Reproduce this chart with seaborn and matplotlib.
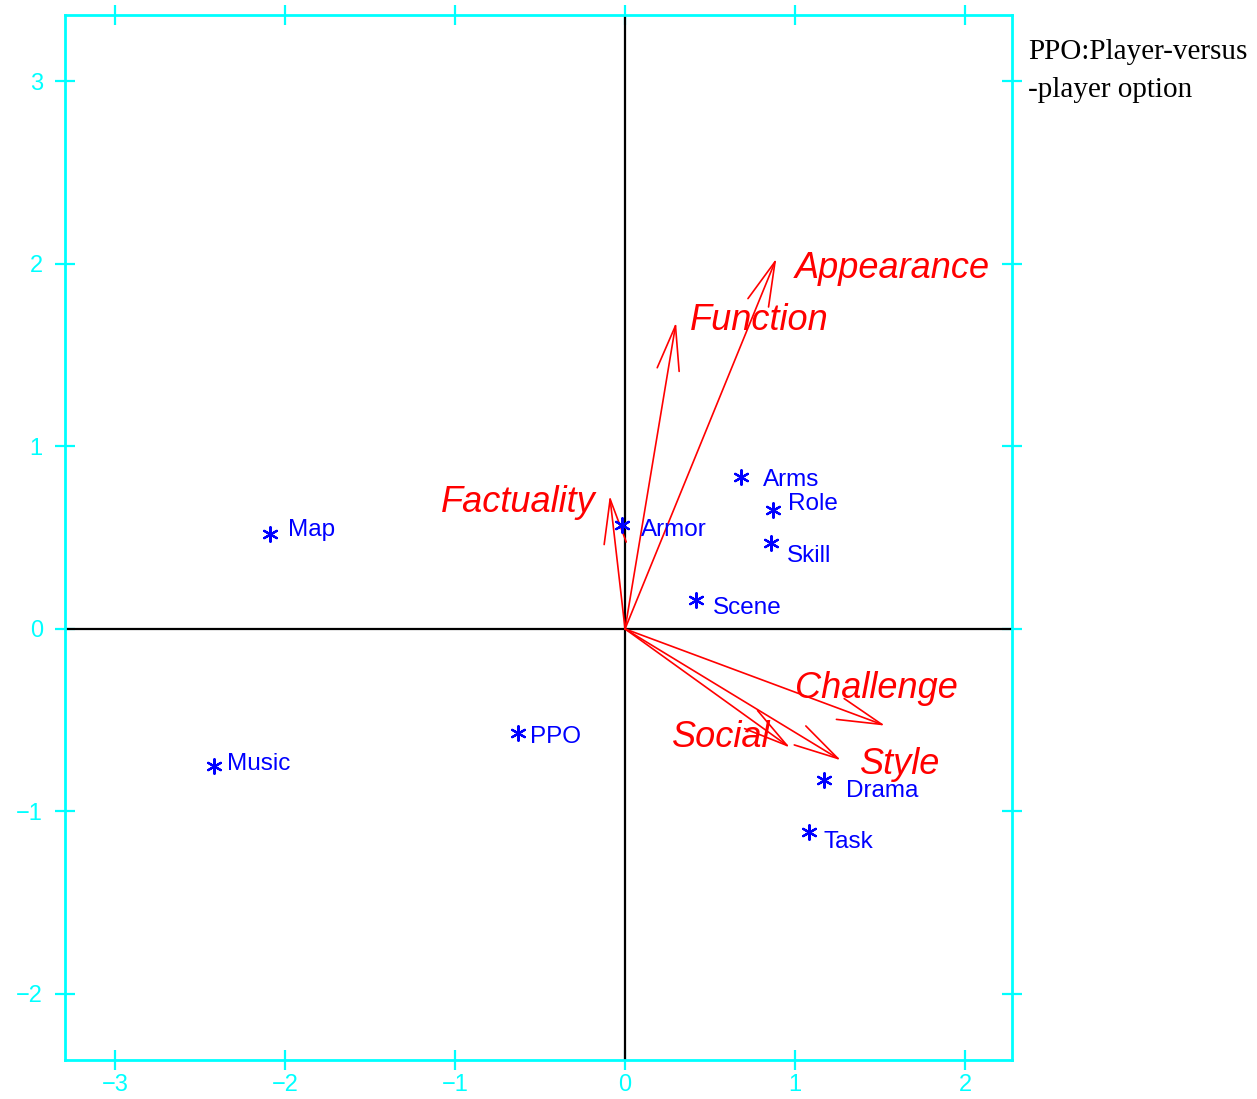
import matplotlib
matplotlib.use("Agg")
import matplotlib.pyplot as plt
import seaborn as sns
import pandas as pd
from matplotlib.patches import ArrowStyle

# Item scores (blue points)
items = ["Map", "Music", "PPO", "Armor", "Arms", "Role", "Skill", "Scene", "Drama", "Task"]
item_x = [-2.09, -2.42, -0.63, -0.02, 0.68, 0.87, 0.86, 0.42, 1.17, 1.08]
item_y = [0.52, -0.75, -0.57, 0.57, 0.83, 0.65, 0.47, 0.16, -0.83, -1.11]

# Attribute loadings (red arrows)
attrs = ["Appearance", "Function", "Factuality", "Challenge", "Style", "Social"]
attr_x = [0.89, 0.30, -0.09, 1.53, 1.27, 0.97]
attr_y = [2.03, 1.68, 0.73, -0.53, -0.72, -0.65]

xticks = [-3, -2, -1, 0, 1, 2]
yticks = [-2, -1, 0, 1, 2, 3]
note_lines = ["PPO:Player-versus", "-player option"]

# label offsets in points (dx, dy)
item_offsets = {
    "Map": (13, 3), "Music": (10, 1.5), "PPO": (9, -3), "Armor": (14, -4),
    "Arms": (16, -1.5), "Role": (11, 4.5), "Skill": (11, -9), "Scene": (12, -6),
    "Drama": (16, -7.5), "Task": (11, -7.5),
}
# label offsets in points (dx, dy, horizontal alignment)
attr_offsets = {
    "Appearance": (13, -7.5, "left"), "Function": (10, 1, "left"),
    "Factuality": (-10, -5, "right"), "Challenge": (-65, 27, "left"),
    "Style": (14, -3, "left"), "Social": (-14, 7, "right"),
}

CYAN = "#00FFFF"
sns.set_style("white")
plt.rcParams["font.family"] = ["Liberation Sans", "DejaVu Sans"]

fig = plt.figure(figsize=(12.57, 10.99), dpi=100)
ax = fig.add_axes([65 / 1257, 39 / 1099, 947 / 1257, 1045 / 1099])

ax.set_xlim(-3.294, 2.276)
ax.set_ylim(-2.362, 3.364)

# reference axes through the origin
ax.axhline(0, color="black", lw=1.6, zorder=1)
ax.axvline(0, color="black", lw=1.6, zorder=1)

# attribute arrows
head = ArrowStyle("->", head_length=3.2, head_width=0.8)
for name, x, y in zip(attrs, attr_x, attr_y):
    ax.annotate("", xy=(x, y), xytext=(0, 0),
                arrowprops=dict(arrowstyle=head, mutation_scale=10,
                                color="red", lw=1.2, shrinkA=0, shrinkB=0),
                zorder=3)
    dx, dy, ha = attr_offsets[name]
    ax.annotate(name, xy=(x, y), xytext=(dx, dy), textcoords="offset points",
                ha=ha, va="center", color="red", fontsize=26,
                fontstyle="italic", zorder=4)

# item points
df = pd.DataFrame({"x": item_x, "y": item_y, "item": items})
sns.scatterplot(data=df, x="x", y="y", ax=ax, marker=(6, 2, 0), s=110,
                color="blue", edgecolor="blue", linewidth=1.6, zorder=5,
                legend=False)
for name, x, y in zip(items, item_x, item_y):
    dx, dy = item_offsets[name]
    ax.annotate(name, xy=(x, y), xytext=(dx, dy), textcoords="offset points",
                ha="left", va="center", color="blue", fontsize=17.5, zorder=6)

# cyan frame with ticks crossing it on all sides
for sp in ax.spines.values():
    sp.set_color(CYAN)
    sp.set_linewidth(2)
ax.set_xticks(xticks)
ax.set_yticks(yticks)
ax.tick_params(axis="both", direction="inout", length=14, width=1.6,
               color=CYAN, labelcolor=CYAN, labelsize=17,
               bottom=True, left=True, top=True, right=True,
               labelbottom=True, labelleft=True,
               labeltop=False, labelright=False)
ax.tick_params(axis="x", pad=3)
ax.tick_params(axis="y", pad=9)
ax.set_xlabel("")
ax.set_ylabel("")
ax.grid(False)

for i, line in enumerate(note_lines):
    fig.text(1028 / 1257, 1 - (52 + 38 * i) / 1099, line, ha="left",
             va="center", fontsize=21,
             family=["Liberation Serif", "DejaVu Serif"], color="black")

fig.savefig("out.png", dpi=100, facecolor="white")
